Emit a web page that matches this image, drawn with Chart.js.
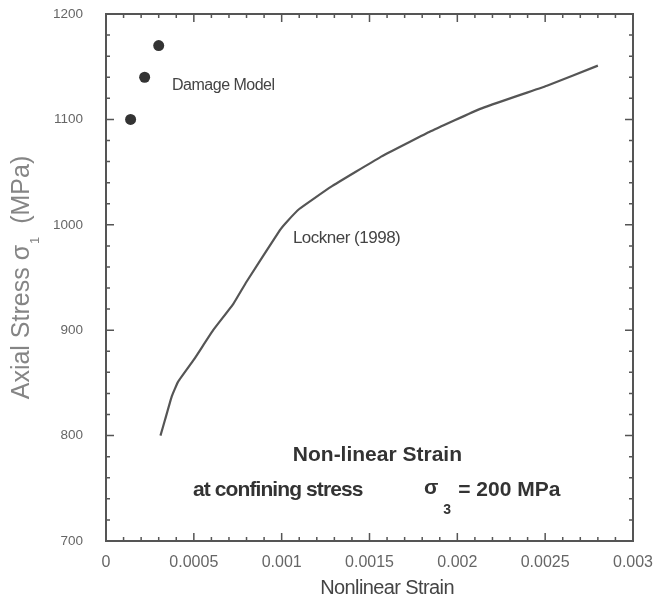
<!DOCTYPE html>
<html><head><meta charset="utf-8">
<script src="https://cdn.jsdelivr.net/npm/chart.js@4/dist/chart.umd.min.js"></script>
<style>html,body{margin:0;padding:0;background:#fff}#wrap{width:654px;height:602px;position:relative}canvas{display:block}</style>
</head><body><div id="wrap"><canvas id="c" width="654" height="602" style="width:654px;height:602px"></canvas></div>
<script>
// ---- data ----
const locknerStrain = [0.00031, 0.000336, 0.000374, 0.00041, 0.0005, 0.00061, 0.000725, 0.0008, 0.00099, 0.00103, 0.0011, 0.00128, 0.00156, 0.00184, 0.00213, 0.00251, 0.0028];
const locknerStress = [800, 815, 837, 851, 872, 900, 925, 946, 995, 1003, 1015, 1036, 1064, 1088, 1110, 1132, 1151];
const damageStrain = [0.00014, 0.00022, 0.0003];
const damageStress = [1100, 1140, 1170];
const xTickValues = [0, 0.0005, 0.001, 0.0015, 0.002, 0.0025, 0.003];
const xTickLabels = ["0", "0.0005", "0.001", "0.0015", "0.002", "0.0025", "0.003"];
const yTickValues = [700, 800, 900, 1000, 1100, 1200];
const yTickLabels = ["700", "800", "900", "1000", "1100", "1200"];
const xMinorPerMajor = 5;
const yMinorPerMajor = 5;

const FONT = '"Liberation Sans", Arial, sans-serif';

const frameAndText = {
  id: 'frameAndText',
  afterDraw(chart) {
    const ctx = chart.ctx;
    const xs = chart.scales.x, ys = chart.scales.y;
    const a = chart.chartArea;
    ctx.save();
    // frame
    ctx.strokeStyle = '#555';
    ctx.lineWidth = 2;
    ctx.strokeRect(a.left, a.top, a.right - a.left, a.bottom - a.top);
    // ticks (inward, all four sides)
    ctx.lineWidth = 1.5;
    const xStep = (xTickValues[1] - xTickValues[0]) / xMinorPerMajor;
    const nx = (xTickValues.length - 1) * xMinorPerMajor;
    for (let i = 0; i <= nx; i++) {
      const px = xs.getPixelForValue(xTickValues[0] + i * xStep);
      const len = i % xMinorPerMajor === 0 ? 8 : 4;
      ctx.beginPath();
      ctx.moveTo(px, a.bottom); ctx.lineTo(px, a.bottom - len);
      ctx.moveTo(px, a.top); ctx.lineTo(px, a.top + len);
      ctx.stroke();
    }
    const yStep = (yTickValues[1] - yTickValues[0]) / yMinorPerMajor;
    const ny = (yTickValues.length - 1) * yMinorPerMajor;
    for (let i = 0; i <= ny; i++) {
      const py = ys.getPixelForValue(yTickValues[0] + i * yStep);
      const len = i % yMinorPerMajor === 0 ? 8 : 4;
      ctx.beginPath();
      ctx.moveTo(a.left, py); ctx.lineTo(a.left + len, py);
      ctx.moveTo(a.right, py); ctx.lineTo(a.right - len, py);
      ctx.stroke();
    }

    // x axis title
    ctx.fillStyle = '#444';
    ctx.textBaseline = 'middle';
    ctx.textAlign = 'center';
    ctx.font = '20px ' + FONT;
    ctx.letterSpacing = '-0.6px';
    ctx.fillText('Nonlinear Strain', xs.getPixelForValue(0.0016), 588);

    // y axis title with subscript
    ctx.letterSpacing = '0px';
    ctx.fillStyle = '#858585';
    const mainF = '25px ' + FONT, subF = '13px ' + FONT;
    ctx.font = mainF; const w1 = ctx.measureText('Axial Stress \u03c3').width;
    ctx.font = subF; const w2 = ctx.measureText('1').width;
    ctx.font = mainF; const w3 = ctx.measureText('  (MPa)').width;
    const total = w1 + w2 + w3;
    ctx.translate(22, (a.top + a.bottom) / 2);
    ctx.rotate(-Math.PI / 2);
    ctx.textAlign = 'left';
    let x0 = -total / 2;
    ctx.font = mainF; ctx.fillText('Axial Stress \u03c3', x0, 0);
    ctx.font = subF; ctx.fillText('1', x0 + w1 + 1, 13);
    ctx.font = mainF; ctx.fillText('  (MPa)', x0 + w1 + w2, 0);
    ctx.setTransform(1, 0, 0, 1, 0, 0);

    // annotations (positioned in data coordinates)
    ctx.textAlign = 'left';
    ctx.textBaseline = 'middle';
    ctx.fillStyle = '#444';
    ctx.font = '16px ' + FONT;
    ctx.letterSpacing = '-0.5px';
    ctx.fillText('Damage Model', xs.getPixelForValue(0.000376), ys.getPixelForValue(1132));
    ctx.font = '17px ' + FONT;
    ctx.fillText('Lockner (1998)', xs.getPixelForValue(0.001064), ys.getPixelForValue(987.5));

    ctx.fillStyle = '#333';
    ctx.font = 'bold 21px ' + FONT;
    ctx.letterSpacing = '0px';
    ctx.textAlign = 'center';
    ctx.fillText('Non-linear Strain', xs.getPixelForValue(0.001545), ys.getPixelForValue(781.6));
    ctx.textAlign = 'left';
    const y2 = ys.getPixelForValue(748.4);
    ctx.letterSpacing = '-0.9px';
    ctx.fillText('at confining stress', xs.getPixelForValue(0.000495), y2);
    ctx.letterSpacing = '0px';
    ctx.fillText('\u03c3', xs.getPixelForValue(0.00181), y2 - 2);
    ctx.font = 'bold 14px ' + FONT;
    ctx.fillText('3', xs.getPixelForValue(0.00192), y2 + 20);
    ctx.font = 'bold 21px ' + FONT;
    ctx.fillText('= 200 MPa', xs.getPixelForValue(0.002005), y2);
    ctx.restore();
  }
};

new Chart(document.getElementById('c'), {
  type: 'scatter',
  data: {
    datasets: [
      {
        label: 'Lockner (1998)',
        data: locknerStrain.map((v, i) => ({ x: v, y: locknerStress[i] })),
        showLine: true,
        borderColor: '#555',
        borderWidth: 2.2,
        pointRadius: 0,
        tension: 0.1,
        fill: false
      },
      {
        label: 'Damage Model',
        data: damageStrain.map((v, i) => ({ x: v, y: damageStress[i] })),
        showLine: false,
        pointRadius: 5.5,
        pointBackgroundColor: '#333',
        pointBorderColor: '#333',
        pointBorderWidth: 0
      }
    ]
  },
  options: {
    responsive: false,
    animation: false,
    devicePixelRatio: 1,
    layout: { padding: { left: 0, right: 21, top: 14, bottom: 0 } },
    plugins: { legend: { display: false }, tooltip: { enabled: false } },
    scales: {
      x: {
        type: 'linear', min: 0, max: 0.003,
        afterBuildTicks: s => { s.ticks = xTickValues.map(v => ({ value: v })); },
        afterFit: s => { s.height = 61; s.paddingLeft = 0; s.paddingRight = 0; },
        grid: { display: false, drawTicks: false },
        border: { display: false },
        ticks: {
          autoSkip: false, maxRotation: 0, padding: 12,
          color: '#666', font: { family: FONT, size: 16 },
          callback: (v) => { const i = xTickValues.indexOf(v); return i >= 0 ? xTickLabels[i] : ''; }
        }
      },
      y: {
        type: 'linear', min: 700, max: 1200,
        afterBuildTicks: s => { s.ticks = yTickValues.map(v => ({ value: v })); },
        afterFit: s => { s.width = 106; s.paddingTop = 0; s.paddingBottom = 0; },
        grid: { display: false, drawTicks: false },
        border: { display: false },
        ticks: {
          autoSkip: false, padding: 23,
          color: '#666', font: { family: FONT, size: 13.5 },
          callback: (v) => { const i = yTickValues.indexOf(v); return i >= 0 ? yTickLabels[i] : ''; }
        }
      }
    }
  },
  plugins: [frameAndText]
});
</script>
</body></html>
